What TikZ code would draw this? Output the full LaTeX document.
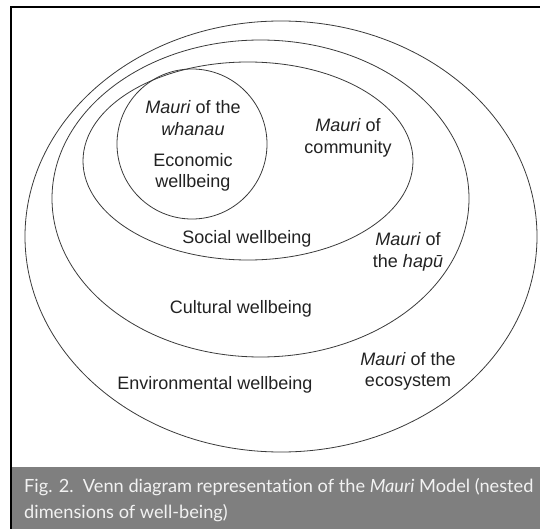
\documentclass[tikz,border=0pt]{standalone}
\usepackage{fontspec}
\setmainfont{Liberation Sans}
\newfontfamily\capfont[Ligatures=NoCommon]{Lato}
\definecolor{capgray}{HTML}{7F7F7F}
\definecolor{capink}{HTML}{F2F2F2}
\definecolor{ringgray}{HTML}{3A3A3A}
\definecolor{inkgray}{HTML}{222222}
\tikzset{
  ring/.style={draw=ringgray, line width=0.8pt},
  lbl/.style={inkgray, align=center, inner sep=0pt, font=\fontsize{18}{21.5}\selectfont},
  capline/.style={capink, anchor=base west, inner sep=0pt, font=\capfont\fontsize{18.2}{22}\selectfont}
}
\begin{document}
\begin{tikzpicture}[x=1pt,y=-1pt]
  \useasboundingbox (0,0) rectangle (540,529);
  %\draw[lightgray] (0,0) grid[step=20] (540,529);
  \fill[capgray] (11,467) rectangle (540,529);
  \draw[line width=2pt] (11,529) -- (11,7) -- (540,7);
  % nested rings, outside in
  \draw[ring] (281,236.5) ellipse [x radius=256, y radius=215.5];
  \draw[ring] (260.5,198.5) ellipse [x radius=208.5, y radius=158.5];
  \draw[ring] (248,161) ellipse [x radius=165, y radius=99];
  \draw[ring] (192,144) circle [radius=75];
  \node[lbl] (whanau) at (193,118) {\textit{Mauri} of the\\\textit{whanau}};
  \node[lbl] (economic) at (193,172.5) {Economic\\wellbeing};
  \node[lbl] (community) at (348,138) {\textit{Mauri} of\\community};
  \node[lbl] (social) at (247,239) {Social wellbeing};
  \node[lbl] (hapu) at (408,252) {\textit{Mauri} of\\the \textit{hapū}};
  \node[lbl] (cultural) at (241,309) {Cultural wellbeing};
  \node[lbl] (ecosystem) at (408,371.5) {\textit{Mauri} of the\\ecosystem};
  \node[lbl] (environ) at (215,385) {Environmental wellbeing};
  \node[capline] (cap1) at (24,492) {Fig. 2.\ \ Venn diagram representation of the \textit{Mauri} Model (nested};
  \node[capline] (cap2) at (24,518) {dimensions of well-being)};
\end{tikzpicture}
\end{document}
